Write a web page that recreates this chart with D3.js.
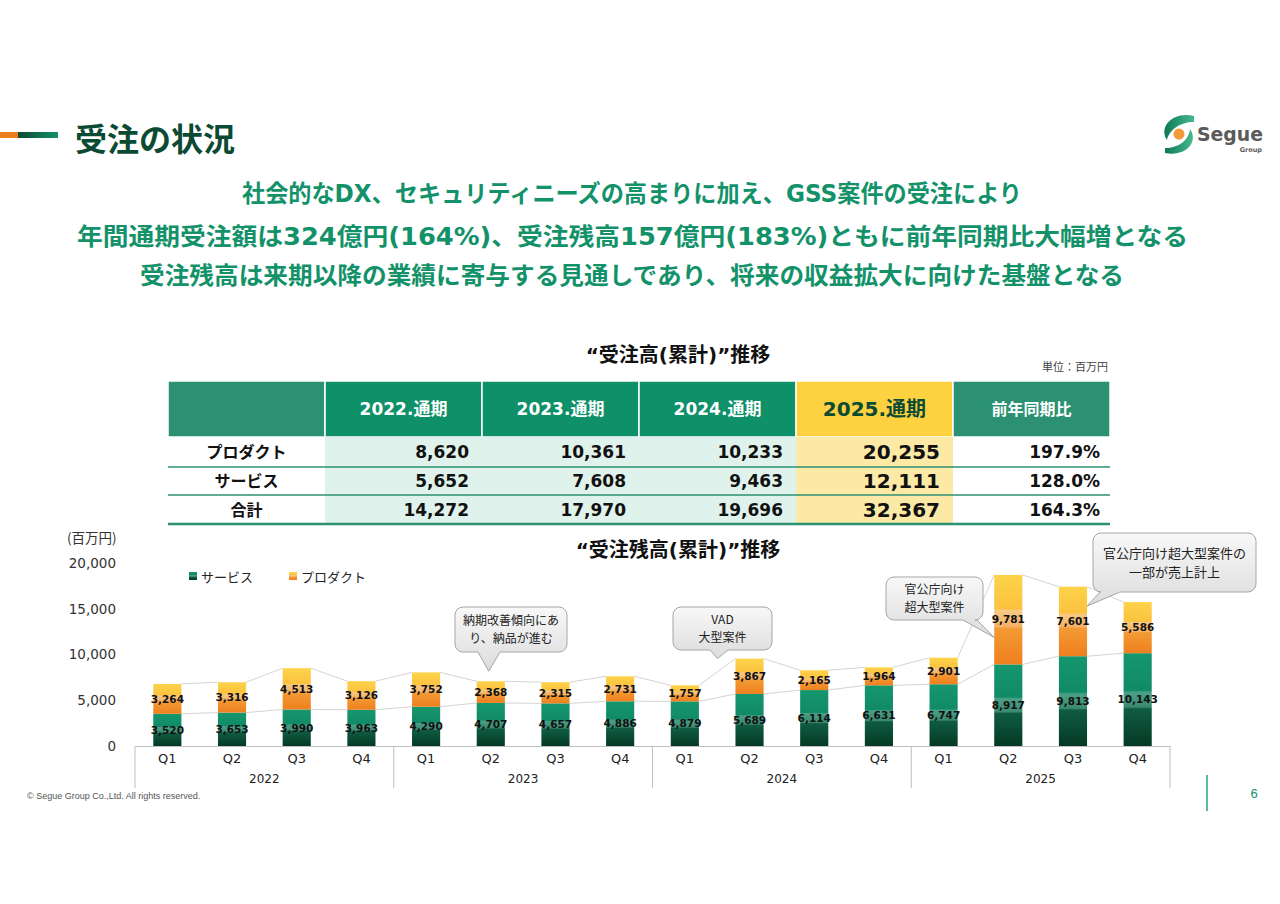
<!DOCTYPE html>
<html>
<head>
<meta charset="utf-8">
<script src="https://cdn.jsdelivr.net/npm/d3@7"></script>
<style>
  body { margin: 0; background: #fff; }
  svg { display: block; }
  text { font-family: "DejaVu Sans", "Noto Sans CJK JP", sans-serif; }
  .jp { font-family: "Noto Sans CJK JP", sans-serif; }
</style>
</head>
<body>
<svg id="slide" width="1280" height="904"></svg>
<script>
(function () {
  "use strict";

  // ---- data ----
  const quarterLabels = ["Q1", "Q2", "Q3", "Q4"];
  const years = ["2022", "2023", "2024", "2025"];
  const serviceBacklog = [3520, 3653, 3990, 3963, 4290, 4707, 4657, 4886, 4879, 5689, 6114, 6631, 6747, 8917, 9813, 10143];
  const productBacklog = [3264, 3316, 4513, 3126, 3752, 2368, 2315, 2731, 1757, 3867, 2165, 1964, 2901, 9781, 7601, 5586];
  const yTicks = [0, 5000, 10000, 15000, 20000];

  const fyColumns = ["2022.通期", "2023.通期", "2024.通期", "2025.通期"];
  const rowLabels = ["プロダクト", "サービス", "合計"];
  const fyProduct = [8620, 10361, 10233, 20255];
  const fyService = [5652, 7608, 9463, 12111];
  const fyTotal = [14272, 17970, 19696, 32367];
  const yoyRatio = ["197.9%", "128.0%", "164.3%"];

  const headlines = [
    "社会的なDX、セキュリティニーズの高まりに加え、GSS案件の受注により",
    "年間通期受注額は324億円(164%)、受注残高157億円(183%)ともに前年同期比大幅増となる",
    "受注残高は来期以降の業績に寄与する見通しであり、将来の収益拡大に向けた基盤となる"
  ];
  const calloutTexts = [
    ["納期改善傾向にあ", "り、納品が進む"],
    ["VAD", "大型案件"],
    ["官公庁向け", "超大型案件"],
    ["官公庁向け超大型案件の", "一部が売上計上"]
  ];

  const green = "#13926a", dark = "#0b4a33", teal = "#2b9172";
  const svg = d3.select("#slide");
  const defs = svg.append("defs");

  function gradient(id, stops, horizontal) {
    const g = defs.append("linearGradient").attr("id", id)
      .attr("x1", 0).attr("y1", 0)
      .attr("x2", horizontal ? 1 : 0).attr("y2", horizontal ? 0 : 1);
    stops.forEach(s => g.append("stop").attr("offset", s[0]).attr("stop-color", s[1]));
  }
  gradient("gService", [[0, "#15976e"], [0.40, "#118a66"], [0.42, "#4aa085"], [0.58, "#3a8a70"], [0.60, "#0f5c42"], [1, "#053925"]]);
  gradient("gProduct", [[0, "#fdd34a"], [0.38, "#fbc23f"], [0.40, "#f8c986"], [0.58, "#f4b064"], [0.60, "#f39a34"], [1, "#ee7f1e"]]);
  gradient("gBubble", [[0, "#f8f8f8"], [1, "#dcdcdc"]]);
  gradient("gBar", [[0, dark], [1, green]], true);
  gradient("gLogo", [[0, "#0d7a55"], [1, "#48b88e"]], true);

  // ---- header ----
  svg.append("rect").attr("x", 0).attr("y", 132).attr("width", 18).attr("height", 6).attr("fill", "#ee7d1c");
  svg.append("rect").attr("x", 18).attr("y", 132).attr("width", 40).attr("height", 6).attr("fill", "url(#gBar)");
  svg.append("text").attr("class", "jp").attr("x", 75).attr("y", 151)
    .attr("font-size", 32).attr("font-weight", 700).attr("fill", dark).text("受注の状況");

  // logo (rough)
  const logo = svg.append("g");
  logo.append("path").attr("d", "M1194,116 C1174,111 1158,126 1167,140 C1169,130 1180,122 1194,122 Z").attr("fill", "url(#gLogo)");
  logo.append("path").attr("d", "M1165,153 C1186,157 1199,142 1190,129 C1189,140 1179,148 1165,148 Z").attr("fill", "url(#gLogo)");
  logo.append("circle").attr("cx", 1179).attr("cy", 134).attr("r", 5.5).attr("fill", "#f29a3a");
  logo.append("text").attr("x", 1197).attr("y", 141).attr("font-size", 19).attr("font-weight", 700)
    .attr("textLength", 66).attr("lengthAdjust", "spacingAndGlyphs")
    .attr("fill", "#5a5a5a").text("Segue");
  logo.append("text").attr("x", 1262).attr("y", 152).attr("text-anchor", "end").attr("font-size", 6.5)
    .attr("font-weight", 700).attr("fill", "#5a5a5a").text("Group");

  // ---- headline lines ----
  const headBox = [[242, 202, 780], [77, 245, 1111], [140, 284, 984]];
  svg.append("g").selectAll("text").data(headlines).join("text")
    .attr("x", (d, i) => headBox[i][0]).attr("y", (d, i) => headBox[i][1])
    .attr("textLength", (d, i) => headBox[i][2]).attr("lengthAdjust", "spacingAndGlyphs")
    .attr("font-size", 24).attr("font-weight", 700).attr("fill", green).text(d => d);

  // ---- table ----
  svg.append("text").attr("x", 678).attr("y", 362).attr("text-anchor", "middle")
    .attr("font-size", 20).attr("font-weight", 700).attr("fill", "#111").text("“受注高(累計)”推移");
  svg.append("text").attr("class", "jp").attr("x", 1108).attr("y", 371).attr("text-anchor", "end")
    .attr("font-size", 11).attr("fill", "#444").text("単位：百万円");

  const col = d3.scaleBand().domain(d3.range(6)).range([168, 1110]);
  const rowEdges = [437, 467, 495, 524];
  const headTop = 381;
  const table = svg.append("g");

  const headFill = i => i === 4 ? "#fdd13f" : (i === 0 || i === 5) ? teal : "#0e9068";
  table.selectAll("rect.head").data(d3.range(6)).join("rect").attr("class", "head")
    .attr("x", i => col(i)).attr("y", headTop).attr("width", col.bandwidth()).attr("height", rowEdges[0] - headTop)
    .attr("fill", headFill).attr("stroke", "#fff").attr("stroke-width", 1.5);

  const headTexts = [""].concat(fyColumns, ["前年同期比"]);
  table.selectAll("text.head").data(headTexts).join("text").attr("class", "head")
    .attr("x", (d, i) => col(i) + col.bandwidth() / 2)
    .attr("y", (d, i) => i === 4 ? 416 : 415)
    .attr("text-anchor", "middle").attr("font-weight", 700)
    .attr("font-size", (d, i) => i === 4 ? 20 : i === 5 ? 16 : 17)
    .attr("fill", (d, i) => i === 4 ? dark : "#fff").text(d => d);

  table.selectAll("rect.cell").data(d3.range(1, 5)).join("rect").attr("class", "cell")
    .attr("x", i => col(i)).attr("y", rowEdges[0]).attr("width", col.bandwidth())
    .attr("height", rowEdges[3] - rowEdges[0]).attr("fill", i => i === 4 ? "#fde9a6" : "#dff2eb");

  [rowEdges[1], rowEdges[2]].forEach(yy => table.append("line")
    .attr("x1", 168).attr("x2", 1110).attr("y1", yy).attr("y2", yy)
    .attr("stroke", teal).attr("stroke-width", 1.5));
  table.append("line").attr("x1", 168).attr("x2", 1110).attr("y1", rowEdges[3]).attr("y2", rowEdges[3])
    .attr("stroke", teal).attr("stroke-width", 2.5);

  const rows = [fyProduct, fyService, fyTotal];
  const fmt = d3.format(",");
  rows.forEach((vals, r) => {
    const cy = (rowEdges[r] + rowEdges[r + 1]) / 2;
    table.append("text").attr("class", "jp").attr("x", col(0) + col.bandwidth() / 2).attr("y", cy + 6)
      .attr("text-anchor", "middle").attr("font-size", 16).attr("font-weight", 700).attr("fill", "#111")
      .text(rowLabels[r]);
    vals.forEach((v, c) => {
      const big = c === 3;
      table.append("text").attr("x", col(c + 1) + col.bandwidth() - 13).attr("y", cy + (big ? 7 : 6))
        .attr("text-anchor", "end").attr("font-size", big ? 20 : 17).attr("font-weight", 700)
        .attr("fill", "#111").text(fmt(v));
    });
    table.append("text").attr("x", col(5) + col.bandwidth() - 10).attr("y", cy + 6)
      .attr("text-anchor", "end").attr("font-size", 17).attr("font-weight", 700).attr("fill", "#111")
      .text(yoyRatio[r]);
  });

  // ---- backlog chart ----
  const x = d3.scaleBand().domain(d3.range(serviceBacklog.length)).range([135, 1170])
    .paddingInner(0.565).paddingOuter(0.2825);
  const y = d3.scaleLinear().domain([0, 20000]).range([746, 563]);
  const yearScale = d3.scaleBand().domain(years).range([135, 1170]);
  const bw = x.bandwidth();
  const totals = serviceBacklog.map((s, i) => s + productBacklog[i]);

  svg.append("text").attr("class", "jp").attr("x", 67).attr("y", 543).attr("font-size", 13.5)
    .attr("fill", "#333").text("(百万円)");
  svg.append("text").attr("x", 678).attr("y", 557).attr("text-anchor", "middle")
    .attr("font-size", 20).attr("font-weight", 700).attr("fill", "#111").text("“受注残高(累計)”推移");

  // legend
  const legend = svg.append("g");
  [["サービス", "url(#gService)", 189], ["プロダクト", "url(#gProduct)", 289]].forEach(l => {
    legend.append("rect").attr("x", l[2]).attr("y", 572).attr("width", 8).attr("height", 8).attr("fill", l[1]);
    legend.append("text").attr("class", "jp").attr("x", l[2] + 12).attr("y", 582)
      .attr("font-size", 13).attr("fill", "#222").text(l[0]);
  });

  // y axis
  svg.append("g").attr("transform", "translate(135,0)")
    .call(d3.axisLeft(y).tickValues(yTicks).tickFormat(fmt).tickSize(0).tickPadding(19))
    .call(g => g.select(".domain").remove())
    .call(g => g.selectAll("text").attr("font-size", 13.5).attr("fill", "#333")
      .style("font-family", "DejaVu Sans"));

  // series lines between bars
  const links = svg.append("g").attr("stroke", "#d4d4d4").attr("stroke-width", 1).attr("fill", "none");
  [serviceBacklog, totals].forEach(arr => {
    links.selectAll(null).data(d3.range(arr.length - 1)).join("line")
      .attr("x1", i => x(i) + bw).attr("y1", i => y(arr[i]))
      .attr("x2", i => x(i + 1)).attr("y2", i => y(arr[i + 1]));
  });

  // bars
  const bars = svg.append("g");
  bars.selectAll("rect.svc").data(serviceBacklog).join("rect").attr("class", "svc")
    .attr("x", (d, i) => x(i)).attr("width", bw)
    .attr("y", d => y(d)).attr("height", d => y(0) - y(d)).attr("fill", "url(#gService)");
  bars.selectAll("rect.prd").data(productBacklog).join("rect").attr("class", "prd")
    .attr("x", (d, i) => x(i)).attr("width", bw)
    .attr("y", (d, i) => y(totals[i])).attr("height", (d, i) => y(serviceBacklog[i]) - y(totals[i]))
    .attr("fill", "url(#gProduct)");

  const labels = svg.append("g").attr("text-anchor", "middle").attr("font-size", 10.5)
    .attr("font-weight", 700).attr("fill", "#111");
  labels.selectAll("text.svc").data(serviceBacklog).join("text").attr("class", "svc")
    .attr("x", (d, i) => x(i) + bw / 2).attr("y", d => y(d / 2)).attr("dy", "0.36em").text(fmt);
  labels.selectAll("text.prd").data(productBacklog).join("text").attr("class", "prd")
    .attr("x", (d, i) => x(i) + bw / 2).attr("y", (d, i) => y(serviceBacklog[i] + d / 2))
    .attr("dy", "0.36em").text(fmt);

  // x axis with year groups
  svg.append("g").attr("transform", `translate(0,${y(0)})`)
    .call(d3.axisBottom(x).tickFormat(i => quarterLabels[i % 4]).tickSize(0).tickSizeOuter(0).tickPadding(8))
    .call(g => g.select(".domain").attr("stroke", "#bfbfbf"))
    .call(g => g.selectAll("text").attr("font-size", 13).attr("fill", "#222")
      .style("font-family", "DejaVu Sans"));
  const sep = years.map(yy => yearScale(yy)).concat([1170]);
  svg.append("g").selectAll("line").data(sep).join("line")
    .attr("x1", d => d).attr("x2", d => d).attr("y1", y(0)).attr("y2", 788)
    .attr("stroke", "#bfbfbf").attr("stroke-width", 1);
  svg.append("g").selectAll("text").data(years).join("text")
    .attr("x", d => yearScale(d) + yearScale.bandwidth() / 2).attr("y", 783)
    .attr("text-anchor", "middle").attr("font-size", 12).attr("fill", "#222").text(d => d);

  // callouts: box layout plus a tail tip tied to a bar and a value
  const calloutBoxes = [
    { x: 455, y: 607, w: 112, h: 45, b1: 478, b2: 500, bar: 5, dx: -2, at: 1, up: 10, fs: 12 },
    { x: 673, y: 607, w: 99, h: 43, b1: 710, b2: 728, bar: 9, dx: -32, at: 1, up: 0, fs: 12 },
    { x: 886, y: 577, w: 97, h: 43, b1: 963, b2: 977, bar: 13, dx: -14, at: 0.3, up: 0, fs: 12 },
    { x: 1093, y: 533, w: 163, h: 59, b1: 1100, b2: 1120, bar: 14, dx: 14, at: 0.72, up: 0, fs: 13 }
  ];
  function bubble(b, tx, ty) {
    const r = 8, x0 = b.x, y0 = b.y, x1 = b.x + b.w, y1 = b.y + b.h;
    return `M${x0 + r},${y0}H${x1 - r}A${r},${r} 0 0 1 ${x1},${y0 + r}V${y1 - r}` +
      `A${r},${r} 0 0 1 ${x1 - r},${y1}H${b.b2}L${tx},${ty}L${b.b1},${y1}H${x0 + r}` +
      `A${r},${r} 0 0 1 ${x0},${y1 - r}V${y0 + r}A${r},${r} 0 0 1 ${x0 + r},${y0}Z`;
  }
  const notes = svg.append("g");
  calloutBoxes.forEach((b, k) => {
    const i = b.bar;
    const tx = x(i) + bw / 2 + b.dx;
    const ty = y(serviceBacklog[i] + productBacklog[i] * b.at) - b.up;
    notes.append("path").attr("d", bubble(b, tx, ty))
      .attr("fill", "url(#gBubble)").attr("stroke", "#a6a6a6").attr("stroke-width", 1);
    const lines = calloutTexts[k];
    const gap = b.fs * 1.45;
    lines.forEach((t, j) => {
      notes.append("text").attr("class", "jp")
        .attr("x", b.x + b.w / 2)
        .attr("y", b.y + b.h / 2 + (j - (lines.length - 1) / 2) * gap)
        .attr("dy", "0.36em").attr("text-anchor", "middle")
        .attr("font-size", b.fs).attr("fill", "#222").text(t);
    });
  });

  // ---- footer ----
  svg.append("text").attr("x", 27).attr("y", 799).attr("font-size", 9)
    .style("font-family", "Liberation Sans").attr("fill", "#555")
    .text("© Segue Group Co.,Ltd. All rights reserved.");
  svg.append("line").attr("x1", 1207).attr("x2", 1207).attr("y1", 775).attr("y2", 811)
    .attr("stroke", "#5fb8a0").attr("stroke-width", 2);
  svg.append("text").attr("x", 1254).attr("y", 798).attr("text-anchor", "middle")
    .attr("font-size", 13).style("font-family", "Liberation Sans").attr("fill", green).text("6");
})();
</script>
</body>
</html>
